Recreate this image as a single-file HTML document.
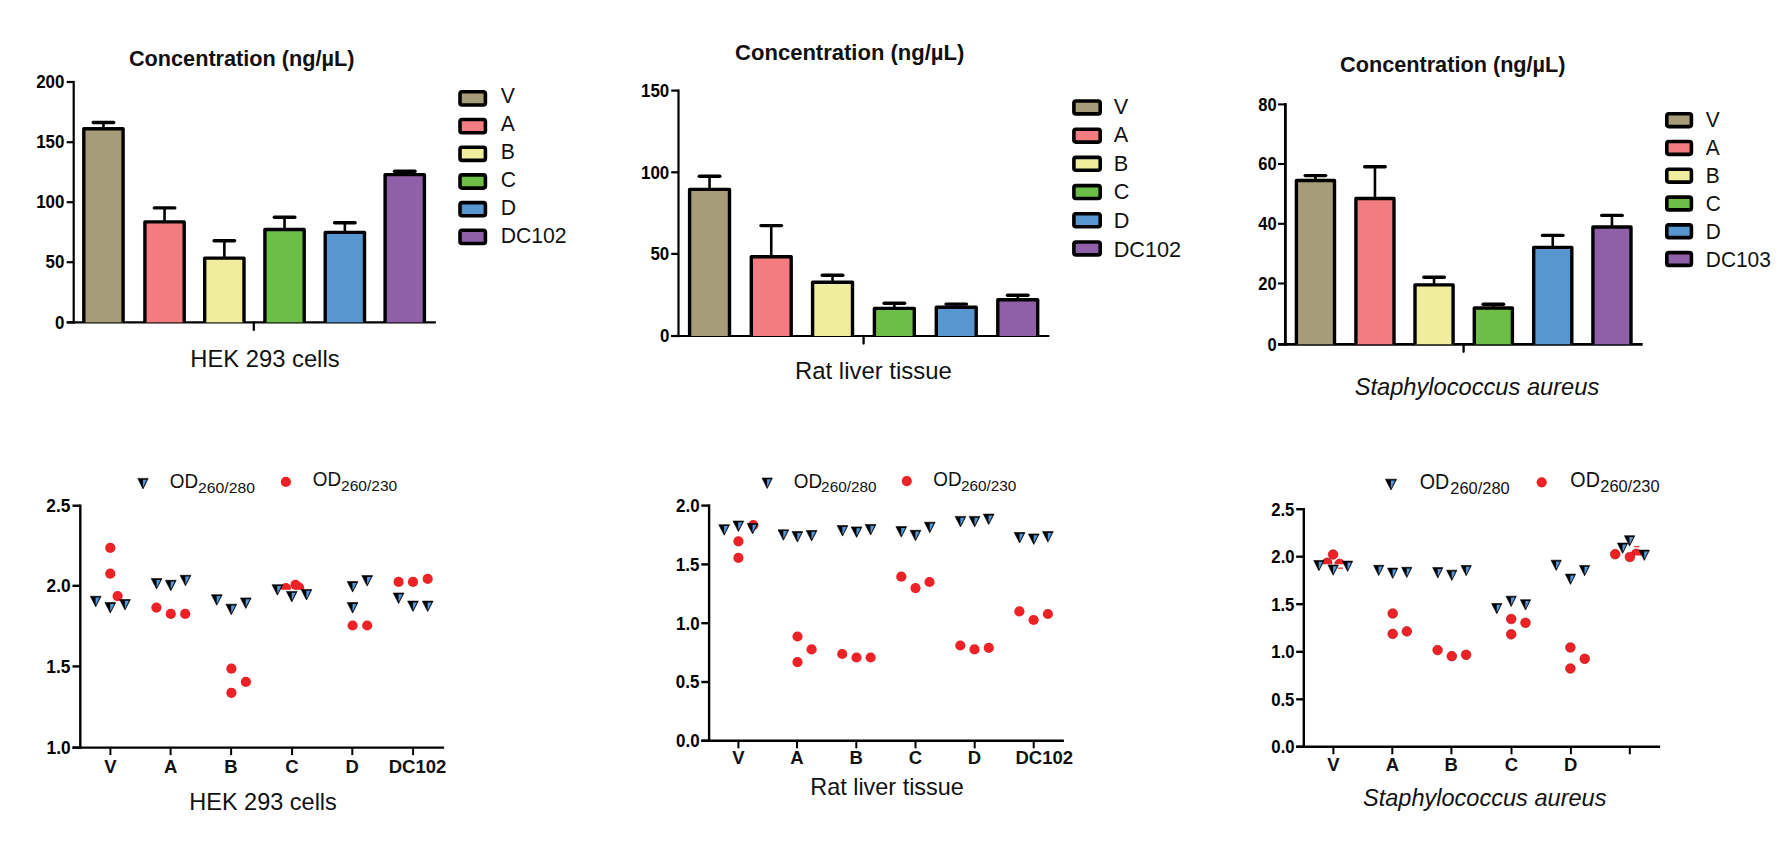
<!DOCTYPE html>
<html><head><meta charset="utf-8"><title>Figure</title>
<style>
html,body{margin:0;padding:0;background:#fff;}
body{width:1791px;height:855px;overflow:hidden;}
svg{display:block;}
svg text{font-family:"Liberation Sans", Arial, sans-serif;font-kerning:none;}
</style></head>
<body>
<svg width="1791" height="855" viewBox="0 0 1791 855">
<rect width="1791" height="855" fill="#fff"/>
<line x1="73.70" y1="80.90" x2="73.70" y2="323.50" stroke="#000" stroke-width="2.2" stroke-linecap="butt"/>
<line x1="66.70" y1="82.00" x2="73.70" y2="82.00" stroke="#000" stroke-width="2.2" stroke-linecap="butt"/>
<text x="36.16" y="88.24" font-size="18.00" font-weight="bold" font-style="normal" textLength="28.23" lengthAdjust="spacingAndGlyphs" fill="#000">200</text>
<line x1="66.70" y1="142.20" x2="73.70" y2="142.20" stroke="#000" stroke-width="2.2" stroke-linecap="butt"/>
<text x="36.16" y="148.44" font-size="18.00" font-weight="bold" font-style="normal" textLength="28.23" lengthAdjust="spacingAndGlyphs" fill="#000">150</text>
<line x1="66.70" y1="202.20" x2="73.70" y2="202.20" stroke="#000" stroke-width="2.2" stroke-linecap="butt"/>
<text x="36.16" y="208.44" font-size="18.00" font-weight="bold" font-style="normal" textLength="28.23" lengthAdjust="spacingAndGlyphs" fill="#000">100</text>
<line x1="66.70" y1="262.20" x2="73.70" y2="262.20" stroke="#000" stroke-width="2.2" stroke-linecap="butt"/>
<text x="45.57" y="268.44" font-size="18.00" font-weight="bold" font-style="normal" textLength="18.82" lengthAdjust="spacingAndGlyphs" fill="#000">50</text>
<line x1="66.70" y1="322.40" x2="73.70" y2="322.40" stroke="#000" stroke-width="2.2" stroke-linecap="butt"/>
<text x="54.98" y="328.64" font-size="18.00" font-weight="bold" font-style="normal" textLength="9.41" lengthAdjust="spacingAndGlyphs" fill="#000">0</text>
<line x1="66.70" y1="322.40" x2="435.80" y2="322.40" stroke="#000" stroke-width="2.2" stroke-linecap="butt"/>
<line x1="253.80" y1="322.40" x2="253.80" y2="329.90" stroke="#000" stroke-width="2.3" stroke-linecap="round"/>
<line x1="103.45" y1="128.70" x2="103.45" y2="122.50" stroke="#000" stroke-width="2.6" stroke-linecap="butt"/>
<line x1="93.20" y1="122.50" x2="113.70" y2="122.50" stroke="#000" stroke-width="3.4" stroke-linecap="round"/>
<rect x="83.80" y="128.70" width="39.30" height="193.70" fill="#a69c77"/>
<path d="M83.80,322.40 V128.70 H123.10 V322.40" fill="none" stroke="#000" stroke-width="3.4" stroke-linejoin="round"/>
<line x1="164.55" y1="221.90" x2="164.55" y2="207.90" stroke="#000" stroke-width="2.6" stroke-linecap="butt"/>
<line x1="154.30" y1="207.90" x2="174.80" y2="207.90" stroke="#000" stroke-width="3.4" stroke-linecap="round"/>
<rect x="144.90" y="221.90" width="39.30" height="100.50" fill="#f27c80"/>
<path d="M144.90,322.40 V221.90 H184.20 V322.40" fill="none" stroke="#000" stroke-width="3.4" stroke-linejoin="round"/>
<line x1="224.35" y1="258.10" x2="224.35" y2="240.70" stroke="#000" stroke-width="2.6" stroke-linecap="butt"/>
<line x1="214.10" y1="240.70" x2="234.60" y2="240.70" stroke="#000" stroke-width="3.4" stroke-linecap="round"/>
<rect x="204.70" y="258.10" width="39.30" height="64.30" fill="#f0ee9e"/>
<path d="M204.70,322.40 V258.10 H244.00 V322.40" fill="none" stroke="#000" stroke-width="3.4" stroke-linejoin="round"/>
<line x1="284.55" y1="229.50" x2="284.55" y2="217.30" stroke="#000" stroke-width="2.6" stroke-linecap="butt"/>
<line x1="274.30" y1="217.30" x2="294.80" y2="217.30" stroke="#000" stroke-width="3.4" stroke-linecap="round"/>
<rect x="264.90" y="229.50" width="39.30" height="92.90" fill="#6dbe46"/>
<path d="M264.90,322.40 V229.50 H304.20 V322.40" fill="none" stroke="#000" stroke-width="3.4" stroke-linejoin="round"/>
<line x1="344.85" y1="232.40" x2="344.85" y2="222.70" stroke="#000" stroke-width="2.6" stroke-linecap="butt"/>
<line x1="334.60" y1="222.70" x2="355.10" y2="222.70" stroke="#000" stroke-width="3.4" stroke-linecap="round"/>
<rect x="325.20" y="232.40" width="39.30" height="90.00" fill="#5896d0"/>
<path d="M325.20,322.40 V232.40 H364.50 V322.40" fill="none" stroke="#000" stroke-width="3.4" stroke-linejoin="round"/>
<line x1="404.75" y1="174.60" x2="404.75" y2="171.20" stroke="#000" stroke-width="2.6" stroke-linecap="butt"/>
<line x1="394.50" y1="171.20" x2="415.00" y2="171.20" stroke="#000" stroke-width="3.4" stroke-linecap="round"/>
<rect x="385.10" y="174.60" width="39.30" height="147.80" fill="#8f60a8"/>
<path d="M385.10,322.40 V174.60 H424.40 V322.40" fill="none" stroke="#000" stroke-width="3.4" stroke-linejoin="round"/>
<rect x="460.00" y="91.80" width="25.40" height="13.20" rx="2" fill="#a69c77" stroke="#000" stroke-width="3.6"/>
<rect x="460.00" y="119.50" width="25.40" height="13.20" rx="2" fill="#f27c80" stroke="#000" stroke-width="3.6"/>
<rect x="460.00" y="147.20" width="25.40" height="13.20" rx="2" fill="#f0ee9e" stroke="#000" stroke-width="3.6"/>
<rect x="460.00" y="174.90" width="25.40" height="13.20" rx="2" fill="#6dbe46" stroke="#000" stroke-width="3.6"/>
<rect x="460.00" y="202.60" width="25.40" height="13.20" rx="2" fill="#5896d0" stroke="#000" stroke-width="3.6"/>
<rect x="460.00" y="230.30" width="25.40" height="13.20" rx="2" fill="#8f60a8" stroke="#000" stroke-width="3.6"/>
<text x="500.71" y="102.80" font-size="21.30" textLength="14.13" lengthAdjust="spacingAndGlyphs" fill="#111">V</text>
<text x="500.71" y="130.75" font-size="21.30" textLength="14.13" lengthAdjust="spacingAndGlyphs" fill="#111">A</text>
<text x="500.71" y="158.70" font-size="21.30" textLength="14.13" lengthAdjust="spacingAndGlyphs" fill="#111">B</text>
<text x="500.71" y="186.65" font-size="21.30" textLength="15.30" lengthAdjust="spacingAndGlyphs" fill="#111">C</text>
<text x="500.71" y="214.60" font-size="21.30" textLength="15.30" lengthAdjust="spacingAndGlyphs" fill="#111">D</text>
<text x="500.71" y="242.55" font-size="21.30" textLength="65.96" lengthAdjust="spacingAndGlyphs" fill="#111">DC102</text>
<text x="128.91" y="66.10" font-size="22.00" font-weight="bold" font-style="normal" textLength="225.57" lengthAdjust="spacingAndGlyphs" fill="#111">Concentration (ng/µL)</text>
<text x="190.35" y="366.50" font-size="23.80" font-weight="normal" font-style="normal" textLength="149.21" lengthAdjust="spacingAndGlyphs" fill="#111">HEK 293 cells</text>
<line x1="678.50" y1="89.50" x2="678.50" y2="337.10" stroke="#000" stroke-width="2.2" stroke-linecap="butt"/>
<line x1="671.20" y1="90.60" x2="678.50" y2="90.60" stroke="#000" stroke-width="2.2" stroke-linecap="butt"/>
<text x="641.06" y="96.84" font-size="18.00" font-weight="bold" font-style="normal" textLength="28.23" lengthAdjust="spacingAndGlyphs" fill="#000">150</text>
<line x1="671.20" y1="172.30" x2="678.50" y2="172.30" stroke="#000" stroke-width="2.2" stroke-linecap="butt"/>
<text x="641.06" y="178.54" font-size="18.00" font-weight="bold" font-style="normal" textLength="28.23" lengthAdjust="spacingAndGlyphs" fill="#000">100</text>
<line x1="671.20" y1="253.90" x2="678.50" y2="253.90" stroke="#000" stroke-width="2.2" stroke-linecap="butt"/>
<text x="650.47" y="260.14" font-size="18.00" font-weight="bold" font-style="normal" textLength="18.82" lengthAdjust="spacingAndGlyphs" fill="#000">50</text>
<line x1="671.20" y1="336.00" x2="678.50" y2="336.00" stroke="#000" stroke-width="2.2" stroke-linecap="butt"/>
<text x="659.88" y="342.24" font-size="18.00" font-weight="bold" font-style="normal" textLength="9.41" lengthAdjust="spacingAndGlyphs" fill="#000">0</text>
<line x1="671.20" y1="336.00" x2="1049.40" y2="336.00" stroke="#000" stroke-width="2.2" stroke-linecap="butt"/>
<line x1="863.60" y1="336.00" x2="863.60" y2="343.50" stroke="#000" stroke-width="2.3" stroke-linecap="round"/>
<line x1="709.55" y1="189.40" x2="709.55" y2="176.30" stroke="#000" stroke-width="2.6" stroke-linecap="butt"/>
<line x1="699.30" y1="176.30" x2="719.80" y2="176.30" stroke="#000" stroke-width="3.4" stroke-linecap="round"/>
<rect x="689.60" y="189.40" width="39.90" height="146.60" fill="#a69c77"/>
<path d="M689.60,336.00 V189.40 H729.50 V336.00" fill="none" stroke="#000" stroke-width="3.4" stroke-linejoin="round"/>
<line x1="771.25" y1="256.70" x2="771.25" y2="225.60" stroke="#000" stroke-width="2.6" stroke-linecap="butt"/>
<line x1="761.00" y1="225.60" x2="781.50" y2="225.60" stroke="#000" stroke-width="3.4" stroke-linecap="round"/>
<rect x="751.30" y="256.70" width="39.90" height="79.30" fill="#f27c80"/>
<path d="M751.30,336.00 V256.70 H791.20 V336.00" fill="none" stroke="#000" stroke-width="3.4" stroke-linejoin="round"/>
<line x1="832.55" y1="282.20" x2="832.55" y2="275.20" stroke="#000" stroke-width="2.6" stroke-linecap="butt"/>
<line x1="822.30" y1="275.20" x2="842.80" y2="275.20" stroke="#000" stroke-width="3.4" stroke-linecap="round"/>
<rect x="812.60" y="282.20" width="39.90" height="53.80" fill="#f0ee9e"/>
<path d="M812.60,336.00 V282.20 H852.50 V336.00" fill="none" stroke="#000" stroke-width="3.4" stroke-linejoin="round"/>
<line x1="894.35" y1="308.40" x2="894.35" y2="303.30" stroke="#000" stroke-width="2.6" stroke-linecap="butt"/>
<line x1="884.10" y1="303.30" x2="904.60" y2="303.30" stroke="#000" stroke-width="3.4" stroke-linecap="round"/>
<rect x="874.40" y="308.40" width="39.90" height="27.60" fill="#6dbe46"/>
<path d="M874.40,336.00 V308.40 H914.30 V336.00" fill="none" stroke="#000" stroke-width="3.4" stroke-linejoin="round"/>
<line x1="956.25" y1="307.30" x2="956.25" y2="304.10" stroke="#000" stroke-width="2.6" stroke-linecap="butt"/>
<line x1="946.00" y1="304.10" x2="966.50" y2="304.10" stroke="#000" stroke-width="3.4" stroke-linecap="round"/>
<rect x="936.30" y="307.30" width="39.90" height="28.70" fill="#5896d0"/>
<path d="M936.30,336.00 V307.30 H976.20 V336.00" fill="none" stroke="#000" stroke-width="3.4" stroke-linejoin="round"/>
<line x1="1017.75" y1="299.70" x2="1017.75" y2="295.30" stroke="#000" stroke-width="2.6" stroke-linecap="butt"/>
<line x1="1007.50" y1="295.30" x2="1028.00" y2="295.30" stroke="#000" stroke-width="3.4" stroke-linecap="round"/>
<rect x="997.80" y="299.70" width="39.90" height="36.30" fill="#8f60a8"/>
<path d="M997.80,336.00 V299.70 H1037.70 V336.00" fill="none" stroke="#000" stroke-width="3.4" stroke-linejoin="round"/>
<rect x="1073.90" y="101.00" width="26.30" height="12.90" rx="2" fill="#a69c77" stroke="#000" stroke-width="3.6"/>
<rect x="1073.90" y="129.20" width="26.30" height="12.90" rx="2" fill="#f27c80" stroke="#000" stroke-width="3.6"/>
<rect x="1073.90" y="157.40" width="26.30" height="12.90" rx="2" fill="#f0ee9e" stroke="#000" stroke-width="3.6"/>
<rect x="1073.90" y="185.60" width="26.30" height="12.90" rx="2" fill="#6dbe46" stroke="#000" stroke-width="3.6"/>
<rect x="1073.90" y="213.80" width="26.30" height="12.90" rx="2" fill="#5896d0" stroke="#000" stroke-width="3.6"/>
<rect x="1073.90" y="242.00" width="26.30" height="12.90" rx="2" fill="#8f60a8" stroke="#000" stroke-width="3.6"/>
<text x="1113.70" y="113.60" font-size="22.10" textLength="14.46" lengthAdjust="spacingAndGlyphs" fill="#111">V</text>
<text x="1113.70" y="142.20" font-size="22.10" textLength="14.46" lengthAdjust="spacingAndGlyphs" fill="#111">A</text>
<text x="1113.70" y="170.80" font-size="22.10" textLength="14.46" lengthAdjust="spacingAndGlyphs" fill="#111">B</text>
<text x="1113.70" y="199.40" font-size="22.10" textLength="15.66" lengthAdjust="spacingAndGlyphs" fill="#111">C</text>
<text x="1113.70" y="228.00" font-size="22.10" textLength="15.66" lengthAdjust="spacingAndGlyphs" fill="#111">D</text>
<text x="1113.70" y="256.60" font-size="22.10" textLength="67.49" lengthAdjust="spacingAndGlyphs" fill="#111">DC102</text>
<text x="735.10" y="59.80" font-size="22.00" font-weight="bold" font-style="normal" textLength="229.20" lengthAdjust="spacingAndGlyphs" fill="#111">Concentration (ng/µL)</text>
<text x="794.94" y="378.60" font-size="24.30" font-weight="normal" font-style="normal" textLength="156.93" lengthAdjust="spacingAndGlyphs" fill="#111">Rat liver tissue</text>
<line x1="1285.40" y1="103.00" x2="1285.40" y2="345.70" stroke="#000" stroke-width="2.8" stroke-linecap="butt"/>
<line x1="1278.00" y1="104.40" x2="1285.40" y2="104.40" stroke="#000" stroke-width="2.1" stroke-linecap="butt"/>
<text x="1258.22" y="110.64" font-size="18.00" font-weight="bold" font-style="normal" textLength="18.36" lengthAdjust="spacingAndGlyphs" fill="#000">80</text>
<line x1="1278.00" y1="164.00" x2="1285.40" y2="164.00" stroke="#000" stroke-width="2.1" stroke-linecap="butt"/>
<text x="1258.22" y="170.24" font-size="18.00" font-weight="bold" font-style="normal" textLength="18.36" lengthAdjust="spacingAndGlyphs" fill="#000">60</text>
<line x1="1278.00" y1="223.80" x2="1285.40" y2="223.80" stroke="#000" stroke-width="2.1" stroke-linecap="butt"/>
<text x="1258.22" y="230.04" font-size="18.00" font-weight="bold" font-style="normal" textLength="18.36" lengthAdjust="spacingAndGlyphs" fill="#000">40</text>
<line x1="1278.00" y1="283.50" x2="1285.40" y2="283.50" stroke="#000" stroke-width="2.1" stroke-linecap="butt"/>
<text x="1258.22" y="289.74" font-size="18.00" font-weight="bold" font-style="normal" textLength="18.36" lengthAdjust="spacingAndGlyphs" fill="#000">20</text>
<line x1="1278.00" y1="344.30" x2="1285.40" y2="344.30" stroke="#000" stroke-width="2.1" stroke-linecap="butt"/>
<text x="1267.40" y="350.54" font-size="18.00" font-weight="bold" font-style="normal" textLength="9.18" lengthAdjust="spacingAndGlyphs" fill="#000">0</text>
<line x1="1278.00" y1="344.30" x2="1642.70" y2="344.30" stroke="#000" stroke-width="2.8" stroke-linecap="butt"/>
<line x1="1463.60" y1="344.30" x2="1463.60" y2="351.80" stroke="#000" stroke-width="2.3" stroke-linecap="round"/>
<line x1="1315.45" y1="180.50" x2="1315.45" y2="175.60" stroke="#000" stroke-width="2.6" stroke-linecap="butt"/>
<line x1="1305.20" y1="175.60" x2="1325.70" y2="175.60" stroke="#000" stroke-width="3.4" stroke-linecap="round"/>
<rect x="1296.40" y="180.50" width="38.10" height="163.80" fill="#a69c77"/>
<path d="M1296.40,344.30 V180.50 H1334.50 V344.30" fill="none" stroke="#000" stroke-width="3.4" stroke-linejoin="round"/>
<line x1="1374.95" y1="198.50" x2="1374.95" y2="166.80" stroke="#000" stroke-width="2.6" stroke-linecap="butt"/>
<line x1="1364.70" y1="166.80" x2="1385.20" y2="166.80" stroke="#000" stroke-width="3.4" stroke-linecap="round"/>
<rect x="1355.90" y="198.50" width="38.10" height="145.80" fill="#f27c80"/>
<path d="M1355.90,344.30 V198.50 H1394.00 V344.30" fill="none" stroke="#000" stroke-width="3.4" stroke-linejoin="round"/>
<line x1="1434.05" y1="284.90" x2="1434.05" y2="277.30" stroke="#000" stroke-width="2.6" stroke-linecap="butt"/>
<line x1="1423.80" y1="277.30" x2="1444.30" y2="277.30" stroke="#000" stroke-width="3.4" stroke-linecap="round"/>
<rect x="1415.00" y="284.90" width="38.10" height="59.40" fill="#f0ee9e"/>
<path d="M1415.00,344.30 V284.90 H1453.10 V344.30" fill="none" stroke="#000" stroke-width="3.4" stroke-linejoin="round"/>
<line x1="1493.35" y1="308.00" x2="1493.35" y2="304.20" stroke="#000" stroke-width="2.6" stroke-linecap="butt"/>
<line x1="1483.10" y1="304.20" x2="1503.60" y2="304.20" stroke="#000" stroke-width="3.4" stroke-linecap="round"/>
<rect x="1474.30" y="308.00" width="38.10" height="36.30" fill="#6dbe46"/>
<path d="M1474.30,344.30 V308.00 H1512.40 V344.30" fill="none" stroke="#000" stroke-width="3.4" stroke-linejoin="round"/>
<line x1="1552.75" y1="247.40" x2="1552.75" y2="235.40" stroke="#000" stroke-width="2.6" stroke-linecap="butt"/>
<line x1="1542.50" y1="235.40" x2="1563.00" y2="235.40" stroke="#000" stroke-width="3.4" stroke-linecap="round"/>
<rect x="1533.70" y="247.40" width="38.10" height="96.90" fill="#5896d0"/>
<path d="M1533.70,344.30 V247.40 H1571.80 V344.30" fill="none" stroke="#000" stroke-width="3.4" stroke-linejoin="round"/>
<line x1="1611.95" y1="227.00" x2="1611.95" y2="215.40" stroke="#000" stroke-width="2.6" stroke-linecap="butt"/>
<line x1="1601.70" y1="215.40" x2="1622.20" y2="215.40" stroke="#000" stroke-width="3.4" stroke-linecap="round"/>
<rect x="1592.90" y="227.00" width="38.10" height="117.30" fill="#8f60a8"/>
<path d="M1592.90,344.30 V227.00 H1631.00 V344.30" fill="none" stroke="#000" stroke-width="3.4" stroke-linejoin="round"/>
<rect x="1666.80" y="113.80" width="24.60" height="12.80" rx="2" fill="#a69c77" stroke="#000" stroke-width="3.6"/>
<rect x="1666.80" y="141.56" width="24.60" height="12.80" rx="2" fill="#f27c80" stroke="#000" stroke-width="3.6"/>
<rect x="1666.80" y="169.32" width="24.60" height="12.80" rx="2" fill="#f0ee9e" stroke="#000" stroke-width="3.6"/>
<rect x="1666.80" y="197.08" width="24.60" height="12.80" rx="2" fill="#6dbe46" stroke="#000" stroke-width="3.6"/>
<rect x="1666.80" y="224.84" width="24.60" height="12.80" rx="2" fill="#5896d0" stroke="#000" stroke-width="3.6"/>
<rect x="1666.80" y="252.60" width="24.60" height="12.80" rx="2" fill="#8f60a8" stroke="#000" stroke-width="3.6"/>
<text x="1705.81" y="127.00" font-size="21.30" textLength="13.93" lengthAdjust="spacingAndGlyphs" fill="#111">V</text>
<text x="1705.81" y="154.96" font-size="21.30" textLength="13.93" lengthAdjust="spacingAndGlyphs" fill="#111">A</text>
<text x="1705.81" y="182.92" font-size="21.30" textLength="13.93" lengthAdjust="spacingAndGlyphs" fill="#111">B</text>
<text x="1705.81" y="210.88" font-size="21.30" textLength="15.08" lengthAdjust="spacingAndGlyphs" fill="#111">C</text>
<text x="1705.81" y="238.84" font-size="21.30" textLength="15.08" lengthAdjust="spacingAndGlyphs" fill="#111">D</text>
<text x="1705.81" y="266.80" font-size="21.30" textLength="65.01" lengthAdjust="spacingAndGlyphs" fill="#111">DC103</text>
<text x="1340.01" y="71.80" font-size="22.00" font-weight="bold" font-style="normal" textLength="225.57" lengthAdjust="spacingAndGlyphs" fill="#111">Concentration (ng/µL)</text>
<text x="1354.63" y="395.20" font-size="24.00" font-weight="normal" font-style="italic" textLength="244.66" lengthAdjust="spacingAndGlyphs" fill="#111">Staphylococcus aureus</text>
<line x1="80.30" y1="504.50" x2="80.30" y2="748.80" stroke="#000" stroke-width="2.4" stroke-linecap="butt"/>
<line x1="72.50" y1="505.70" x2="80.30" y2="505.70" stroke="#000" stroke-width="2.4" stroke-linecap="butt"/>
<text x="46.34" y="512.05" font-size="18.30" font-weight="bold" font-style="normal" textLength="24.04" lengthAdjust="spacingAndGlyphs" fill="#000">2.5</text>
<line x1="72.50" y1="585.80" x2="80.30" y2="585.80" stroke="#000" stroke-width="2.4" stroke-linecap="butt"/>
<text x="46.57" y="592.15" font-size="18.30" font-weight="bold" font-style="normal" textLength="24.04" lengthAdjust="spacingAndGlyphs" fill="#000">2.0</text>
<line x1="72.50" y1="666.40" x2="80.30" y2="666.40" stroke="#000" stroke-width="2.4" stroke-linecap="butt"/>
<text x="46.34" y="672.75" font-size="18.30" font-weight="bold" font-style="normal" textLength="24.04" lengthAdjust="spacingAndGlyphs" fill="#000">1.5</text>
<line x1="72.50" y1="747.60" x2="80.30" y2="747.60" stroke="#000" stroke-width="2.4" stroke-linecap="butt"/>
<text x="46.57" y="753.95" font-size="18.30" font-weight="bold" font-style="normal" textLength="24.04" lengthAdjust="spacingAndGlyphs" fill="#000">1.0</text>
<line x1="72.50" y1="747.60" x2="444.10" y2="747.60" stroke="#000" stroke-width="2.4" stroke-linecap="butt"/>
<line x1="110.40" y1="747.60" x2="110.40" y2="755.10" stroke="#000" stroke-width="2.0" stroke-linecap="butt"/>
<text x="104.23" y="772.50" font-size="18.50" font-weight="bold" font-style="normal" textLength="12.34" lengthAdjust="spacingAndGlyphs" fill="#111">V</text>
<line x1="170.60" y1="747.60" x2="170.60" y2="755.10" stroke="#000" stroke-width="2.0" stroke-linecap="butt"/>
<text x="163.93" y="772.50" font-size="18.50" font-weight="bold" font-style="normal" textLength="13.36" lengthAdjust="spacingAndGlyphs" fill="#111">A</text>
<line x1="231.10" y1="747.60" x2="231.10" y2="755.10" stroke="#000" stroke-width="2.0" stroke-linecap="butt"/>
<text x="224.22" y="772.50" font-size="18.50" font-weight="bold" font-style="normal" textLength="13.36" lengthAdjust="spacingAndGlyphs" fill="#111">B</text>
<line x1="292.10" y1="747.60" x2="292.10" y2="755.10" stroke="#000" stroke-width="2.0" stroke-linecap="butt"/>
<text x="285.29" y="772.50" font-size="18.50" font-weight="bold" font-style="normal" textLength="13.36" lengthAdjust="spacingAndGlyphs" fill="#111">C</text>
<line x1="352.30" y1="747.60" x2="352.30" y2="755.10" stroke="#000" stroke-width="2.0" stroke-linecap="butt"/>
<text x="345.39" y="772.50" font-size="18.50" font-weight="bold" font-style="normal" textLength="13.36" lengthAdjust="spacingAndGlyphs" fill="#111">D</text>
<line x1="413.10" y1="747.60" x2="413.10" y2="755.10" stroke="#000" stroke-width="2.0" stroke-linecap="butt"/>
<text x="388.76" y="772.50" font-size="18.50" font-weight="bold" font-style="normal" textLength="57.59" lengthAdjust="spacingAndGlyphs" fill="#111">DC102</text>
<circle cx="110.30" cy="547.90" r="5.1" fill="#ec2227"/>
<circle cx="110.30" cy="573.70" r="5.1" fill="#ec2227"/>
<circle cx="117.60" cy="596.10" r="5.1" fill="#ec2227"/>
<circle cx="156.40" cy="607.60" r="5.1" fill="#ec2227"/>
<circle cx="170.80" cy="613.90" r="5.1" fill="#ec2227"/>
<circle cx="185.20" cy="613.90" r="5.1" fill="#ec2227"/>
<circle cx="231.40" cy="668.70" r="5.1" fill="#ec2227"/>
<circle cx="245.90" cy="681.90" r="5.1" fill="#ec2227"/>
<circle cx="231.40" cy="692.80" r="5.1" fill="#ec2227"/>
<clipPath id="cp1"><rect x="277.90" y="580.00" width="16" height="9.80"/></clipPath>
<circle cx="285.90" cy="588.00" r="5.1" fill="#ec2227" clip-path="url(#cp1)"/>
<clipPath id="cp2"><rect x="287.50" y="576.80" width="16" height="13.00"/></clipPath>
<circle cx="295.50" cy="584.80" r="5.1" fill="#ec2227" clip-path="url(#cp2)"/>
<clipPath id="cp3"><rect x="291.10" y="579.60" width="16" height="10.20"/></clipPath>
<circle cx="299.10" cy="587.60" r="5.1" fill="#ec2227" clip-path="url(#cp3)"/>
<circle cx="352.60" cy="625.50" r="5.1" fill="#ec2227"/>
<circle cx="367.20" cy="625.50" r="5.1" fill="#ec2227"/>
<circle cx="398.60" cy="581.90" r="5.1" fill="#ec2227"/>
<circle cx="413.00" cy="581.90" r="5.1" fill="#ec2227"/>
<circle cx="427.70" cy="578.80" r="5.1" fill="#ec2227"/>
<polygon points="90.30,596.30 101.10,596.30 95.70,606.80" fill="#000" stroke="#000" stroke-width="0.6" stroke-linejoin="round"/>
<polygon points="95.57,597.60 99.56,597.60 95.96,605.00 95.57,604.00" fill="#5298dd"/>
<polygon points="104.90,602.60 115.70,602.60 110.30,613.10" fill="#000" stroke="#000" stroke-width="0.6" stroke-linejoin="round"/>
<polygon points="110.17,603.90 114.16,603.90 110.56,611.30 110.17,610.30" fill="#5298dd"/>
<polygon points="119.60,599.50 130.40,599.50 125.00,610.00" fill="#000" stroke="#000" stroke-width="0.6" stroke-linejoin="round"/>
<polygon points="124.87,600.80 128.86,600.80 125.26,608.20 124.87,607.20" fill="#5298dd"/>
<polygon points="151.20,578.60 162.00,578.60 156.60,589.10" fill="#000" stroke="#000" stroke-width="0.6" stroke-linejoin="round"/>
<polygon points="156.47,579.90 160.46,579.90 156.86,587.30 156.47,586.30" fill="#5298dd"/>
<polygon points="165.40,580.30 176.20,580.30 170.80,590.80" fill="#000" stroke="#000" stroke-width="0.6" stroke-linejoin="round"/>
<polygon points="170.67,581.60 174.66,581.60 171.06,589.00 170.67,588.00" fill="#5298dd"/>
<polygon points="180.10,575.30 190.90,575.30 185.50,585.80" fill="#000" stroke="#000" stroke-width="0.6" stroke-linejoin="round"/>
<polygon points="185.37,576.60 189.36,576.60 185.76,584.00 185.37,583.00" fill="#5298dd"/>
<polygon points="211.40,594.70 222.20,594.70 216.80,605.20" fill="#000" stroke="#000" stroke-width="0.6" stroke-linejoin="round"/>
<polygon points="216.67,596.00 220.66,596.00 217.06,603.40 216.67,602.40" fill="#5298dd"/>
<polygon points="225.90,604.20 236.70,604.20 231.30,614.70" fill="#000" stroke="#000" stroke-width="0.6" stroke-linejoin="round"/>
<polygon points="231.17,605.50 235.16,605.50 231.56,612.90 231.17,611.90" fill="#5298dd"/>
<polygon points="240.40,597.90 251.20,597.90 245.80,608.40" fill="#000" stroke="#000" stroke-width="0.6" stroke-linejoin="round"/>
<polygon points="245.67,599.20 249.66,599.20 246.06,606.60 245.67,605.60" fill="#5298dd"/>
<polygon points="272.00,584.70 282.80,584.70 277.40,595.20" fill="#000" stroke="#000" stroke-width="0.6" stroke-linejoin="round"/>
<polygon points="277.27,586.00 281.26,586.00 277.66,593.40 277.27,592.40" fill="#5298dd"/>
<polygon points="286.40,591.40 297.20,591.40 291.80,601.90" fill="#000" stroke="#000" stroke-width="0.6" stroke-linejoin="round"/>
<polygon points="291.67,592.70 295.66,592.70 292.06,600.10 291.67,599.10" fill="#5298dd"/>
<polygon points="301.10,589.50 311.90,589.50 306.50,600.00" fill="#000" stroke="#000" stroke-width="0.6" stroke-linejoin="round"/>
<polygon points="306.37,590.80 310.36,590.80 306.76,598.20 306.37,597.20" fill="#5298dd"/>
<polygon points="347.20,581.60 358.00,581.60 352.60,592.10" fill="#000" stroke="#000" stroke-width="0.6" stroke-linejoin="round"/>
<polygon points="352.47,582.90 356.46,582.90 352.86,590.30 352.47,589.30" fill="#5298dd"/>
<polygon points="361.80,575.60 372.60,575.60 367.20,586.10" fill="#000" stroke="#000" stroke-width="0.6" stroke-linejoin="round"/>
<polygon points="367.07,576.90 371.06,576.90 367.46,584.30 367.07,583.30" fill="#5298dd"/>
<polygon points="347.20,602.60 358.00,602.60 352.60,613.10" fill="#000" stroke="#000" stroke-width="0.6" stroke-linejoin="round"/>
<polygon points="352.47,603.90 356.46,603.90 352.86,611.30 352.47,610.30" fill="#5298dd"/>
<polygon points="393.20,593.00 404.00,593.00 398.60,603.50" fill="#000" stroke="#000" stroke-width="0.6" stroke-linejoin="round"/>
<polygon points="398.47,594.30 402.46,594.30 398.86,601.70 398.47,600.70" fill="#5298dd"/>
<polygon points="407.60,601.10 418.40,601.10 413.00,611.60" fill="#000" stroke="#000" stroke-width="0.6" stroke-linejoin="round"/>
<polygon points="412.87,602.40 416.86,602.40 413.26,609.80 412.87,608.80" fill="#5298dd"/>
<polygon points="422.30,601.10 433.10,601.10 427.70,611.60" fill="#000" stroke="#000" stroke-width="0.6" stroke-linejoin="round"/>
<polygon points="427.57,602.40 431.56,602.40 427.96,609.80 427.57,608.80" fill="#5298dd"/>
<polygon points="137.80,478.40 148.20,478.40 143.00,488.90" fill="#000" stroke="#000" stroke-width="0.6" stroke-linejoin="round"/>
<polygon points="142.87,479.70 146.72,479.70 143.25,487.10 142.87,486.10" fill="#5298dd"/>
<circle cx="285.90" cy="481.90" r="5.1" fill="#ec2227"/>
<text x="169.81" y="487.80" font-size="20.00" font-weight="normal" font-style="normal" textLength="28.30" lengthAdjust="spacingAndGlyphs" fill="#111">OD</text>
<text x="198.01" y="492.80" font-size="14.80" font-weight="normal" font-style="normal" textLength="56.91" lengthAdjust="spacingAndGlyphs" fill="#111">260/280</text>
<text x="312.81" y="485.80" font-size="20.00" font-weight="normal" font-style="normal" textLength="28.30" lengthAdjust="spacingAndGlyphs" fill="#111">OD</text>
<text x="341.12" y="490.50" font-size="14.80" font-weight="normal" font-style="normal" textLength="56.09" lengthAdjust="spacingAndGlyphs" fill="#111">260/230</text>
<text x="189.27" y="810.00" font-size="24.00" font-weight="normal" font-style="normal" textLength="147.58" lengthAdjust="spacingAndGlyphs" fill="#111">HEK 293 cells</text>
<line x1="709.10" y1="504.40" x2="709.10" y2="742.00" stroke="#000" stroke-width="2.4" stroke-linecap="butt"/>
<line x1="701.30" y1="505.60" x2="709.10" y2="505.60" stroke="#000" stroke-width="2.4" stroke-linecap="butt"/>
<text x="676.06" y="511.95" font-size="18.30" font-weight="bold" font-style="normal" textLength="23.53" lengthAdjust="spacingAndGlyphs" fill="#000">2.0</text>
<line x1="701.30" y1="564.40" x2="709.10" y2="564.40" stroke="#000" stroke-width="2.4" stroke-linecap="butt"/>
<text x="675.84" y="570.75" font-size="18.30" font-weight="bold" font-style="normal" textLength="23.53" lengthAdjust="spacingAndGlyphs" fill="#000">1.5</text>
<line x1="701.30" y1="623.20" x2="709.10" y2="623.20" stroke="#000" stroke-width="2.4" stroke-linecap="butt"/>
<text x="676.06" y="629.55" font-size="18.30" font-weight="bold" font-style="normal" textLength="23.53" lengthAdjust="spacingAndGlyphs" fill="#000">1.0</text>
<line x1="701.30" y1="682.00" x2="709.10" y2="682.00" stroke="#000" stroke-width="2.4" stroke-linecap="butt"/>
<text x="675.84" y="688.35" font-size="18.30" font-weight="bold" font-style="normal" textLength="23.53" lengthAdjust="spacingAndGlyphs" fill="#000">0.5</text>
<line x1="701.30" y1="740.80" x2="709.10" y2="740.80" stroke="#000" stroke-width="2.4" stroke-linecap="butt"/>
<text x="676.06" y="747.15" font-size="18.30" font-weight="bold" font-style="normal" textLength="23.53" lengthAdjust="spacingAndGlyphs" fill="#000">0.0</text>
<line x1="701.30" y1="740.80" x2="1063.90" y2="740.80" stroke="#000" stroke-width="2.4" stroke-linecap="butt"/>
<line x1="738.40" y1="740.80" x2="738.40" y2="748.30" stroke="#000" stroke-width="2.0" stroke-linecap="butt"/>
<text x="732.23" y="763.50" font-size="18.50" font-weight="bold" font-style="normal" textLength="12.34" lengthAdjust="spacingAndGlyphs" fill="#111">V</text>
<line x1="797.00" y1="740.80" x2="797.00" y2="748.30" stroke="#000" stroke-width="2.0" stroke-linecap="butt"/>
<text x="790.33" y="763.50" font-size="18.50" font-weight="bold" font-style="normal" textLength="13.36" lengthAdjust="spacingAndGlyphs" fill="#111">A</text>
<line x1="856.30" y1="740.80" x2="856.30" y2="748.30" stroke="#000" stroke-width="2.0" stroke-linecap="butt"/>
<text x="849.42" y="763.50" font-size="18.50" font-weight="bold" font-style="normal" textLength="13.36" lengthAdjust="spacingAndGlyphs" fill="#111">B</text>
<line x1="915.50" y1="740.80" x2="915.50" y2="748.30" stroke="#000" stroke-width="2.0" stroke-linecap="butt"/>
<text x="908.69" y="763.50" font-size="18.50" font-weight="bold" font-style="normal" textLength="13.36" lengthAdjust="spacingAndGlyphs" fill="#111">C</text>
<line x1="974.70" y1="740.80" x2="974.70" y2="748.30" stroke="#000" stroke-width="2.0" stroke-linecap="butt"/>
<text x="967.79" y="763.50" font-size="18.50" font-weight="bold" font-style="normal" textLength="13.36" lengthAdjust="spacingAndGlyphs" fill="#111">D</text>
<line x1="1033.70" y1="740.80" x2="1033.70" y2="748.30" stroke="#000" stroke-width="2.0" stroke-linecap="butt"/>
<text x="1015.46" y="763.50" font-size="18.50" font-weight="bold" font-style="normal" textLength="57.59" lengthAdjust="spacingAndGlyphs" fill="#111">DC102</text>
<circle cx="738.40" cy="541.30" r="5.1" fill="#ec2227"/>
<circle cx="738.40" cy="557.90" r="5.1" fill="#ec2227"/>
<circle cx="753.30" cy="525.20" r="5.1" fill="#ec2227"/>
<circle cx="797.50" cy="636.50" r="5.1" fill="#ec2227"/>
<circle cx="811.60" cy="649.40" r="5.1" fill="#ec2227"/>
<circle cx="797.50" cy="662.10" r="5.1" fill="#ec2227"/>
<circle cx="842.20" cy="654.00" r="5.1" fill="#ec2227"/>
<circle cx="856.50" cy="657.50" r="5.1" fill="#ec2227"/>
<circle cx="870.60" cy="657.50" r="5.1" fill="#ec2227"/>
<circle cx="901.30" cy="576.70" r="5.1" fill="#ec2227"/>
<circle cx="915.50" cy="588.10" r="5.1" fill="#ec2227"/>
<circle cx="929.50" cy="582.00" r="5.1" fill="#ec2227"/>
<circle cx="960.30" cy="645.50" r="5.1" fill="#ec2227"/>
<circle cx="974.50" cy="649.40" r="5.1" fill="#ec2227"/>
<circle cx="988.80" cy="647.80" r="5.1" fill="#ec2227"/>
<circle cx="1019.40" cy="611.40" r="5.1" fill="#ec2227"/>
<circle cx="1033.60" cy="620.00" r="5.1" fill="#ec2227"/>
<circle cx="1047.90" cy="614.00" r="5.1" fill="#ec2227"/>
<polygon points="718.80,524.70 729.60,524.70 724.20,535.20" fill="#000" stroke="#000" stroke-width="0.6" stroke-linejoin="round"/>
<polygon points="724.07,526.00 728.06,526.00 724.46,533.40 724.07,532.40" fill="#5298dd"/>
<polygon points="733.00,521.00 743.80,521.00 738.40,531.50" fill="#000" stroke="#000" stroke-width="0.6" stroke-linejoin="round"/>
<polygon points="738.27,522.30 742.26,522.30 738.66,529.70 738.27,528.70" fill="#5298dd"/>
<polygon points="747.20,523.50 758.00,523.50 752.60,534.00" fill="#000" stroke="#000" stroke-width="0.6" stroke-linejoin="round"/>
<polygon points="752.47,524.80 756.46,524.80 752.86,532.20 752.47,531.20" fill="#5298dd"/>
<polygon points="778.00,529.80 788.80,529.80 783.40,540.30" fill="#000" stroke="#000" stroke-width="0.6" stroke-linejoin="round"/>
<polygon points="783.27,531.10 787.26,531.10 783.66,538.50 783.27,537.50" fill="#5298dd"/>
<polygon points="792.00,531.60 802.80,531.60 797.40,542.10" fill="#000" stroke="#000" stroke-width="0.6" stroke-linejoin="round"/>
<polygon points="797.27,532.90 801.26,532.90 797.66,540.30 797.27,539.30" fill="#5298dd"/>
<polygon points="806.20,530.50 817.00,530.50 811.60,541.00" fill="#000" stroke="#000" stroke-width="0.6" stroke-linejoin="round"/>
<polygon points="811.47,531.80 815.46,531.80 811.86,539.20 811.47,538.20" fill="#5298dd"/>
<polygon points="837.10,525.60 847.90,525.60 842.50,536.10" fill="#000" stroke="#000" stroke-width="0.6" stroke-linejoin="round"/>
<polygon points="842.37,526.90 846.36,526.90 842.76,534.30 842.37,533.30" fill="#5298dd"/>
<polygon points="851.20,526.90 862.00,526.90 856.60,537.40" fill="#000" stroke="#000" stroke-width="0.6" stroke-linejoin="round"/>
<polygon points="856.47,528.20 860.46,528.20 856.86,535.60 856.47,534.60" fill="#5298dd"/>
<polygon points="865.20,524.50 876.00,524.50 870.60,535.00" fill="#000" stroke="#000" stroke-width="0.6" stroke-linejoin="round"/>
<polygon points="870.47,525.80 874.46,525.80 870.86,533.20 870.47,532.20" fill="#5298dd"/>
<polygon points="895.90,526.60 906.70,526.60 901.30,537.10" fill="#000" stroke="#000" stroke-width="0.6" stroke-linejoin="round"/>
<polygon points="901.17,527.90 905.16,527.90 901.56,535.30 901.17,534.30" fill="#5298dd"/>
<polygon points="910.10,530.30 920.90,530.30 915.50,540.80" fill="#000" stroke="#000" stroke-width="0.6" stroke-linejoin="round"/>
<polygon points="915.37,531.60 919.36,531.60 915.76,539.00 915.37,538.00" fill="#5298dd"/>
<polygon points="924.40,522.20 935.20,522.20 929.80,532.70" fill="#000" stroke="#000" stroke-width="0.6" stroke-linejoin="round"/>
<polygon points="929.67,523.50 933.66,523.50 930.06,530.90 929.67,529.90" fill="#5298dd"/>
<polygon points="955.10,516.40 965.90,516.40 960.50,526.90" fill="#000" stroke="#000" stroke-width="0.6" stroke-linejoin="round"/>
<polygon points="960.37,517.70 964.36,517.70 960.76,525.10 960.37,524.10" fill="#5298dd"/>
<polygon points="969.20,516.40 980.00,516.40 974.60,526.90" fill="#000" stroke="#000" stroke-width="0.6" stroke-linejoin="round"/>
<polygon points="974.47,517.70 978.46,517.70 974.86,525.10 974.47,524.10" fill="#5298dd"/>
<polygon points="983.30,514.10 994.10,514.10 988.70,524.60" fill="#000" stroke="#000" stroke-width="0.6" stroke-linejoin="round"/>
<polygon points="988.57,515.40 992.56,515.40 988.96,522.80 988.57,521.80" fill="#5298dd"/>
<polygon points="1014.20,532.50 1025.00,532.50 1019.60,543.00" fill="#000" stroke="#000" stroke-width="0.6" stroke-linejoin="round"/>
<polygon points="1019.47,533.80 1023.46,533.80 1019.86,541.20 1019.47,540.20" fill="#5298dd"/>
<polygon points="1028.40,533.90 1039.20,533.90 1033.80,544.40" fill="#000" stroke="#000" stroke-width="0.6" stroke-linejoin="round"/>
<polygon points="1033.67,535.20 1037.66,535.20 1034.06,542.60 1033.67,541.60" fill="#5298dd"/>
<polygon points="1042.50,531.60 1053.30,531.60 1047.90,542.10" fill="#000" stroke="#000" stroke-width="0.6" stroke-linejoin="round"/>
<polygon points="1047.77,532.90 1051.76,532.90 1048.16,540.30 1047.77,539.30" fill="#5298dd"/>
<polygon points="762.00,478.00 772.40,478.00 767.20,488.50" fill="#000" stroke="#000" stroke-width="0.6" stroke-linejoin="round"/>
<polygon points="767.07,479.30 770.92,479.30 767.45,486.70 767.07,485.70" fill="#5298dd"/>
<circle cx="906.80" cy="481.10" r="5.1" fill="#ec2227"/>
<text x="793.71" y="487.80" font-size="20.00" font-weight="normal" font-style="normal" textLength="28.30" lengthAdjust="spacingAndGlyphs" fill="#111">OD</text>
<text x="821.13" y="492.40" font-size="14.80" font-weight="normal" font-style="normal" textLength="55.37" lengthAdjust="spacingAndGlyphs" fill="#111">260/280</text>
<text x="933.31" y="485.80" font-size="20.00" font-weight="normal" font-style="normal" textLength="28.30" lengthAdjust="spacingAndGlyphs" fill="#111">OD</text>
<text x="961.03" y="490.50" font-size="14.80" font-weight="normal" font-style="normal" textLength="55.37" lengthAdjust="spacingAndGlyphs" fill="#111">260/230</text>
<text x="810.28" y="794.60" font-size="24.00" font-weight="normal" font-style="normal" textLength="153.56" lengthAdjust="spacingAndGlyphs" fill="#111">Rat liver tissue</text>
<line x1="1303.80" y1="508.00" x2="1303.80" y2="748.00" stroke="#000" stroke-width="2.4" stroke-linecap="butt"/>
<line x1="1296.20" y1="509.20" x2="1303.80" y2="509.20" stroke="#000" stroke-width="2.4" stroke-linecap="butt"/>
<text x="1271.14" y="515.55" font-size="18.30" font-weight="bold" font-style="normal" textLength="23.23" lengthAdjust="spacingAndGlyphs" fill="#000">2.5</text>
<line x1="1296.20" y1="556.70" x2="1303.80" y2="556.70" stroke="#000" stroke-width="2.4" stroke-linecap="butt"/>
<text x="1271.36" y="563.05" font-size="18.30" font-weight="bold" font-style="normal" textLength="23.23" lengthAdjust="spacingAndGlyphs" fill="#000">2.0</text>
<line x1="1296.20" y1="604.20" x2="1303.80" y2="604.20" stroke="#000" stroke-width="2.4" stroke-linecap="butt"/>
<text x="1271.14" y="610.55" font-size="18.30" font-weight="bold" font-style="normal" textLength="23.23" lengthAdjust="spacingAndGlyphs" fill="#000">1.5</text>
<line x1="1296.20" y1="651.80" x2="1303.80" y2="651.80" stroke="#000" stroke-width="2.4" stroke-linecap="butt"/>
<text x="1271.36" y="658.15" font-size="18.30" font-weight="bold" font-style="normal" textLength="23.23" lengthAdjust="spacingAndGlyphs" fill="#000">1.0</text>
<line x1="1296.20" y1="699.30" x2="1303.80" y2="699.30" stroke="#000" stroke-width="2.4" stroke-linecap="butt"/>
<text x="1271.14" y="705.65" font-size="18.30" font-weight="bold" font-style="normal" textLength="23.23" lengthAdjust="spacingAndGlyphs" fill="#000">0.5</text>
<line x1="1296.20" y1="746.80" x2="1303.80" y2="746.80" stroke="#000" stroke-width="2.4" stroke-linecap="butt"/>
<text x="1271.36" y="753.15" font-size="18.30" font-weight="bold" font-style="normal" textLength="23.23" lengthAdjust="spacingAndGlyphs" fill="#000">0.0</text>
<line x1="1296.20" y1="746.80" x2="1660.20" y2="746.80" stroke="#000" stroke-width="2.4" stroke-linecap="butt"/>
<line x1="1333.40" y1="746.80" x2="1333.40" y2="754.30" stroke="#000" stroke-width="2.0" stroke-linecap="butt"/>
<text x="1327.23" y="770.60" font-size="18.50" font-weight="bold" font-style="normal" textLength="12.34" lengthAdjust="spacingAndGlyphs" fill="#111">V</text>
<line x1="1392.30" y1="746.80" x2="1392.30" y2="754.30" stroke="#000" stroke-width="2.0" stroke-linecap="butt"/>
<text x="1385.63" y="770.60" font-size="18.50" font-weight="bold" font-style="normal" textLength="13.36" lengthAdjust="spacingAndGlyphs" fill="#111">A</text>
<line x1="1451.40" y1="746.80" x2="1451.40" y2="754.30" stroke="#000" stroke-width="2.0" stroke-linecap="butt"/>
<text x="1444.52" y="770.60" font-size="18.50" font-weight="bold" font-style="normal" textLength="13.36" lengthAdjust="spacingAndGlyphs" fill="#111">B</text>
<line x1="1511.50" y1="746.80" x2="1511.50" y2="754.30" stroke="#000" stroke-width="2.0" stroke-linecap="butt"/>
<text x="1504.69" y="770.60" font-size="18.50" font-weight="bold" font-style="normal" textLength="13.36" lengthAdjust="spacingAndGlyphs" fill="#111">C</text>
<line x1="1570.90" y1="746.80" x2="1570.90" y2="754.30" stroke="#000" stroke-width="2.0" stroke-linecap="butt"/>
<text x="1563.99" y="770.60" font-size="18.50" font-weight="bold" font-style="normal" textLength="13.36" lengthAdjust="spacingAndGlyphs" fill="#111">D</text>
<line x1="1629.80" y1="746.80" x2="1629.80" y2="754.30" stroke="#000" stroke-width="2.0" stroke-linecap="butt"/>
<clipPath id="cp4"><rect x="1325.10" y="546.50" width="16" height="53.50"/></clipPath>
<circle cx="1333.10" cy="554.50" r="4.85" fill="#ec2227" stroke="#b01010" stroke-width="0.6" clip-path="url(#cp4)"/>
<clipPath id="cp5"><rect x="1319.20" y="554.80" width="16" height="9.40"/></clipPath>
<circle cx="1327.20" cy="562.80" r="4.85" fill="#ec2227" stroke="#b01010" stroke-width="0.6" clip-path="url(#cp5)"/>
<clipPath id="cp6"><rect x="1331.60" y="555.90" width="16" height="8.30"/></clipPath>
<circle cx="1339.60" cy="563.90" r="4.85" fill="#ec2227" stroke="#b01010" stroke-width="0.6" clip-path="url(#cp6)"/>
<circle cx="1392.70" cy="613.50" r="4.85" fill="#ec2227" stroke="#b01010" stroke-width="0.6"/>
<circle cx="1392.70" cy="633.90" r="4.85" fill="#ec2227" stroke="#b01010" stroke-width="0.6"/>
<circle cx="1406.80" cy="631.40" r="4.85" fill="#ec2227" stroke="#b01010" stroke-width="0.6"/>
<circle cx="1437.60" cy="650.10" r="4.85" fill="#ec2227" stroke="#b01010" stroke-width="0.6"/>
<circle cx="1451.80" cy="656.20" r="4.85" fill="#ec2227" stroke="#b01010" stroke-width="0.6"/>
<circle cx="1466.10" cy="654.80" r="4.85" fill="#ec2227" stroke="#b01010" stroke-width="0.6"/>
<circle cx="1511.20" cy="619.00" r="4.85" fill="#ec2227" stroke="#b01010" stroke-width="0.6"/>
<circle cx="1525.50" cy="622.80" r="4.85" fill="#ec2227" stroke="#b01010" stroke-width="0.6"/>
<circle cx="1511.20" cy="634.30" r="4.85" fill="#ec2227" stroke="#b01010" stroke-width="0.6"/>
<circle cx="1570.40" cy="647.50" r="4.85" fill="#ec2227" stroke="#b01010" stroke-width="0.6"/>
<circle cx="1584.70" cy="658.80" r="4.85" fill="#ec2227" stroke="#b01010" stroke-width="0.6"/>
<circle cx="1570.40" cy="668.50" r="4.85" fill="#ec2227" stroke="#b01010" stroke-width="0.6"/>
<circle cx="1615.20" cy="554.20" r="4.85" fill="#ec2227" stroke="#b01010" stroke-width="0.6"/>
<clipPath id="cp7"><rect x="1628.30" y="545.80" width="16" height="9.80"/></clipPath>
<circle cx="1636.30" cy="553.80" r="4.85" fill="#ec2227" stroke="#b01010" stroke-width="0.6" clip-path="url(#cp7)"/>
<circle cx="1629.90" cy="557.00" r="4.85" fill="#ec2227" stroke="#b01010" stroke-width="0.6"/>
<polygon points="1313.75,560.50 1324.05,560.50 1318.90,570.80" fill="#000" stroke="#000" stroke-width="0.6" stroke-linejoin="round"/>
<polygon points="1318.78,561.78 1322.58,561.78 1319.15,569.03 1318.78,568.05" fill="#5298dd"/>
<polygon points="1328.05,565.00 1338.35,565.00 1333.20,575.30" fill="#000" stroke="#000" stroke-width="0.6" stroke-linejoin="round"/>
<polygon points="1333.08,566.28 1336.88,566.28 1333.45,573.53 1333.08,572.55" fill="#5298dd"/>
<polygon points="1342.45,561.10 1352.75,561.10 1347.60,571.40" fill="#000" stroke="#000" stroke-width="0.6" stroke-linejoin="round"/>
<polygon points="1347.48,562.38 1351.28,562.38 1347.85,569.63 1347.48,568.65" fill="#5298dd"/>
<polygon points="1373.55,565.30 1383.85,565.30 1378.70,575.60" fill="#000" stroke="#000" stroke-width="0.6" stroke-linejoin="round"/>
<polygon points="1378.58,566.58 1382.38,566.58 1378.95,573.83 1378.58,572.85" fill="#5298dd"/>
<polygon points="1387.55,568.10 1397.85,568.10 1392.70,578.40" fill="#000" stroke="#000" stroke-width="0.6" stroke-linejoin="round"/>
<polygon points="1392.58,569.38 1396.38,569.38 1392.95,576.63 1392.58,575.65" fill="#5298dd"/>
<polygon points="1401.65,567.30 1411.95,567.30 1406.80,577.60" fill="#000" stroke="#000" stroke-width="0.6" stroke-linejoin="round"/>
<polygon points="1406.68,568.58 1410.48,568.58 1407.05,575.83 1406.68,574.85" fill="#5298dd"/>
<polygon points="1432.65,567.60 1442.95,567.60 1437.80,577.90" fill="#000" stroke="#000" stroke-width="0.6" stroke-linejoin="round"/>
<polygon points="1437.68,568.88 1441.48,568.88 1438.05,576.13 1437.68,575.15" fill="#5298dd"/>
<polygon points="1446.65,570.20 1456.95,570.20 1451.80,580.50" fill="#000" stroke="#000" stroke-width="0.6" stroke-linejoin="round"/>
<polygon points="1451.68,571.48 1455.48,571.48 1452.05,578.73 1451.68,577.75" fill="#5298dd"/>
<polygon points="1461.05,565.50 1471.35,565.50 1466.20,575.80" fill="#000" stroke="#000" stroke-width="0.6" stroke-linejoin="round"/>
<polygon points="1466.08,566.78 1469.88,566.78 1466.45,574.03 1466.08,573.05" fill="#5298dd"/>
<polygon points="1491.65,603.50 1501.95,603.50 1496.80,613.80" fill="#000" stroke="#000" stroke-width="0.6" stroke-linejoin="round"/>
<polygon points="1496.68,604.78 1500.48,604.78 1497.05,612.03 1496.68,611.05" fill="#5298dd"/>
<polygon points="1506.05,596.20 1516.35,596.20 1511.20,606.50" fill="#000" stroke="#000" stroke-width="0.6" stroke-linejoin="round"/>
<polygon points="1511.08,597.48 1514.88,597.48 1511.45,604.73 1511.08,603.75" fill="#5298dd"/>
<polygon points="1520.35,599.70 1530.65,599.70 1525.50,610.00" fill="#000" stroke="#000" stroke-width="0.6" stroke-linejoin="round"/>
<polygon points="1525.38,600.98 1529.18,600.98 1525.75,608.23 1525.38,607.25" fill="#5298dd"/>
<polygon points="1551.05,560.20 1561.35,560.20 1556.20,570.50" fill="#000" stroke="#000" stroke-width="0.6" stroke-linejoin="round"/>
<polygon points="1556.08,561.48 1559.88,561.48 1556.45,568.73 1556.08,567.75" fill="#5298dd"/>
<polygon points="1565.35,574.10 1575.65,574.10 1570.50,584.40" fill="#000" stroke="#000" stroke-width="0.6" stroke-linejoin="round"/>
<polygon points="1570.38,575.38 1574.18,575.38 1570.75,582.63 1570.38,581.65" fill="#5298dd"/>
<polygon points="1579.45,565.50 1589.75,565.50 1584.60,575.80" fill="#000" stroke="#000" stroke-width="0.6" stroke-linejoin="round"/>
<polygon points="1584.48,566.78 1588.28,566.78 1584.85,574.03 1584.48,573.05" fill="#5298dd"/>
<polygon points="1617.45,543.10 1627.75,543.10 1622.60,553.40" fill="#000" stroke="#000" stroke-width="0.6" stroke-linejoin="round"/>
<polygon points="1622.48,544.38 1626.28,544.38 1622.85,551.63 1622.48,550.65" fill="#5298dd"/>
<polygon points="1624.45,535.70 1634.75,535.70 1629.60,546.00" fill="#000" stroke="#000" stroke-width="0.6" stroke-linejoin="round"/>
<polygon points="1629.48,536.98 1633.28,536.98 1629.85,544.23 1629.48,543.25" fill="#5298dd"/>
<polygon points="1639.15,550.10 1649.45,550.10 1644.30,560.40" fill="#000" stroke="#000" stroke-width="0.6" stroke-linejoin="round"/>
<polygon points="1644.18,551.38 1647.98,551.38 1644.55,558.63 1644.18,557.65" fill="#5298dd"/>
<line x1="1338.10" y1="568.20" x2="1343.00" y2="568.20" stroke="#d33" stroke-width="1.3" stroke-linecap="butt"/>
<line x1="1634.10" y1="546.60" x2="1639.40" y2="546.60" stroke="#d33" stroke-width="1.3" stroke-linecap="butt"/>
<polygon points="1385.40,479.20 1396.60,479.20 1391.00,490.00" fill="#000" stroke="#000" stroke-width="0.6" stroke-linejoin="round"/>
<polygon points="1390.87,480.54 1395.00,480.54 1391.27,488.15 1390.87,487.12" fill="#5298dd"/>
<circle cx="1541.70" cy="482.30" r="5.1" fill="#ec2227"/>
<text x="1419.67" y="489.30" font-size="21.50" font-weight="normal" font-style="normal" textLength="29.47" lengthAdjust="spacingAndGlyphs" fill="#111">OD</text>
<text x="1450.38" y="494.30" font-size="15.70" font-weight="normal" font-style="normal" textLength="59.27" lengthAdjust="spacingAndGlyphs" fill="#111">260/280</text>
<text x="1570.37" y="486.80" font-size="21.50" font-weight="normal" font-style="normal" textLength="29.47" lengthAdjust="spacingAndGlyphs" fill="#111">OD</text>
<text x="1600.28" y="492.20" font-size="15.70" font-weight="normal" font-style="normal" textLength="59.27" lengthAdjust="spacingAndGlyphs" fill="#111">260/230</text>
<text x="1362.93" y="805.50" font-size="24.00" font-weight="normal" font-style="italic" textLength="243.55" lengthAdjust="spacingAndGlyphs" fill="#111">Staphylococcus aureus</text>
</svg>
</body></html>
